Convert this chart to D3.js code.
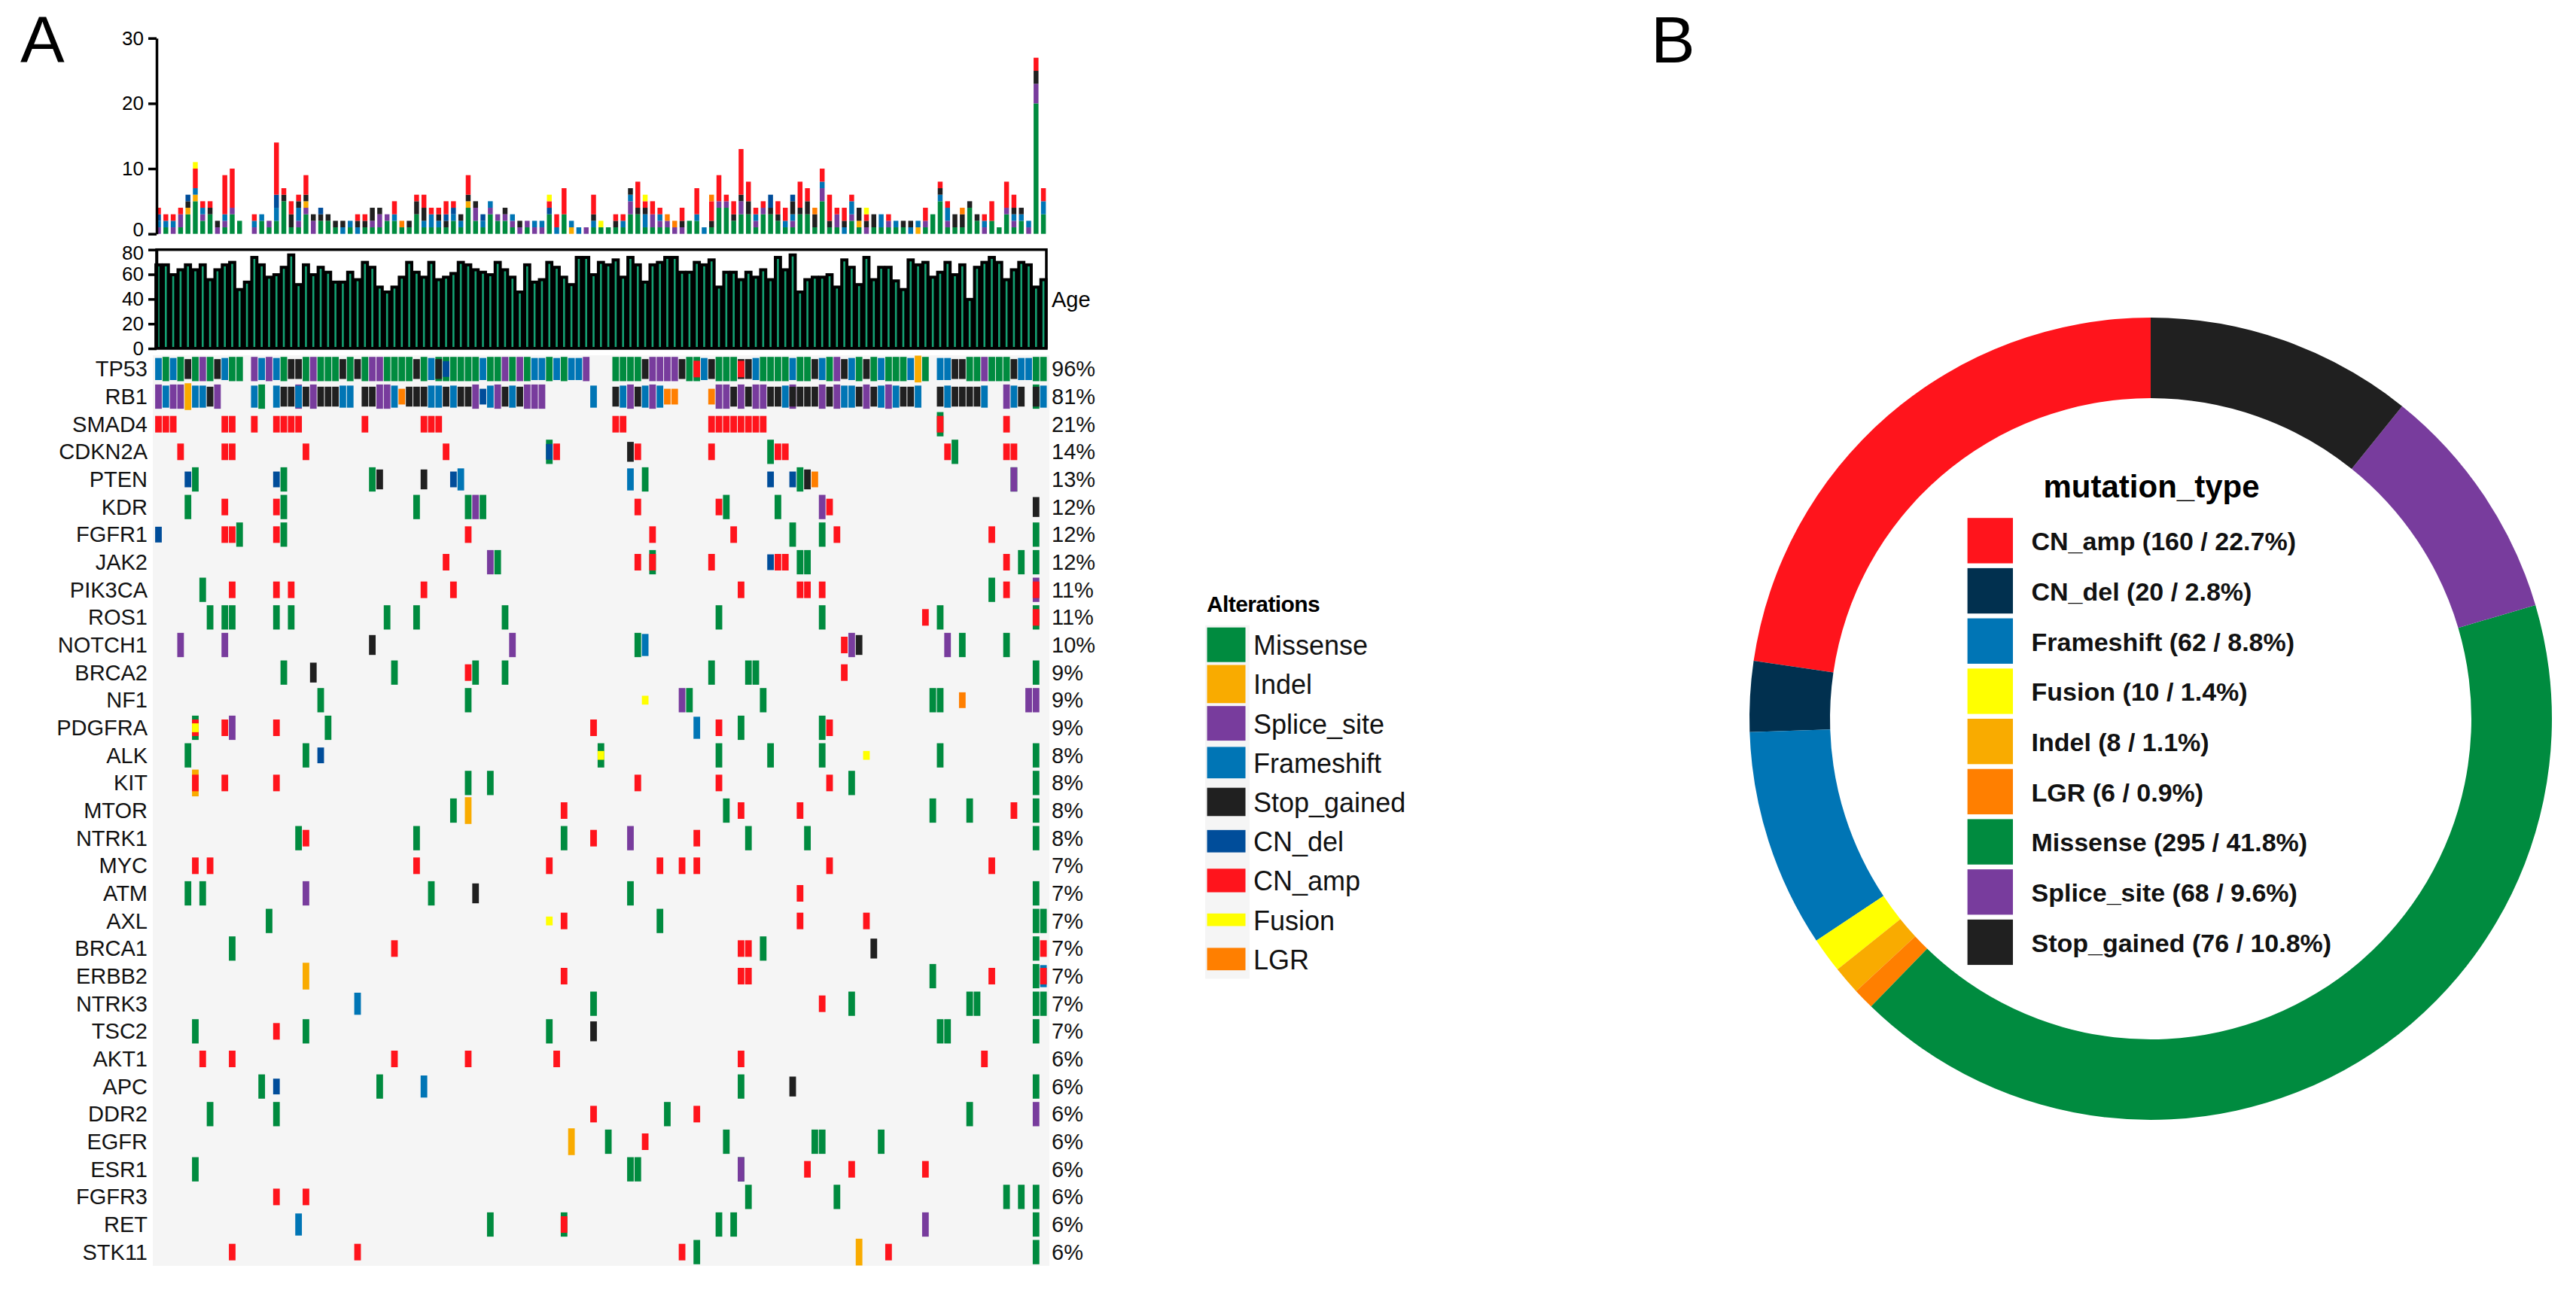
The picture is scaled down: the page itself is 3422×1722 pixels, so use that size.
<!DOCTYPE html>
<html>
<head>
<meta charset="utf-8">
<script src="https://cdnjs.cloudflare.com/ajax/libs/d3/7.8.5/d3.min.js"></script>
<style>
  body { margin: 0; background: #fff; }
  svg { display: block; font-family: "Liberation Sans", Arial, sans-serif; }
</style>
</head>
<body>
<div id="content"></div>
<script>
// ---- data ----
const genes = ["TP53","RB1","SMAD4","CDKN2A","PTEN","KDR","FGFR1","JAK2","PIK3CA","ROS1","NOTCH1",
  "BRCA2","NF1","PDGFRA","ALK","KIT","MTOR","NTRK1","MYC","ATM","AXL","BRCA1","ERBB2","NTRK3",
  "TSC2","AKT1","APC","DDR2","EGFR","ESR1","FGFR3","RET","STK11"];
const pctLabels = ["96%","81%","21%","14%","13%","12%","12%","12%","11%","11%","10%","9%","9%","9%",
  "8%","8%","8%","8%","7%","7%","7%","7%","7%","7%","7%","6%","6%","6%","6%","6%","6%","6%","6%"];

// alteration codes: M Missense, I Indel, S Splice_site, F Frameshift, X Stop_gained,
// D CN_del, A CN_amp, U Fusion, L LGR ; token = sampleIndex + codes
const alterations = [
  "0F 1M 2F 3M 4X 5M 6S 7M 8X 9F 10M 11M 13S 14F 15S 16F 17M 18X 19X 20M 21S 22M 23M 24M 25X 26M 27X 28M 29S 30S 31M 32M 33M 34M 35X 36M 37F 38MX 39MD 40M 41M 42M 43M 44F 45M 46M 47S 48M 49S 50M 51F 52F 53M 54F 55M 56F 57F 58S 62M 63M 64M 65M 66X 67S 68S 69S 70S 71X 72M 73MA 74F 75X 76M 77M 78M 79XA 80X 81F 82M 83M 84M 85M 86F 87M 88M 89X 90F 91M 92S 93X 94F 95M 96X 97M 98F 99M 100M 101M 102F 103I 104M 106F 107F 108X 109X 110M 111M 112S 113M 114M 115M 116X 117F 118F 119M 120M",
  "0S 1F 2S 3S 4I 5F 6F 7X 8S 13F 14M 16F 17X 18X 19SF 20X 21S 22X 23X 24X 25F 26F 28X 29X 30S 31S 32F 33L 34X 35X 36X 37F 38F 39X 40F 41X 42X 43S 44D 45F 46S 47X 48F 49X 50S 51S 52S 59F 62X 63F 64S 65X 66F 67S 68F 69L 70L 75L 76S 77S 78X 79S 80X 81S 82S 83X 84X 85F 86SX 87X 88X 89X 90S 91X 92S 93F 94F 95X 96S 97X 98F 99S 100F 101X 102X 103F 106X 107F 108X 109X 110X 111X 112F 115S 116F 117X 119MX 120F",
  "0A 1A 2A 9A 10A 13A 16A 17A 18A 19A 28A 36A 37A 38A 62A 63A 75A 76A 77A 78A 79A 80A 81A 82A 106MA 115A",
  "3A 9A 10A 20A 39A 53MD 54A 64X 65A 75A 83M 84A 85A 107A 108M 115A 116A",
  "4D 5M 16D 17M 29M 30X 36X 40D 41F 64F 66M 83D 86D 87M 88X 89L 116MS",
  "4M 9A 16A 17M 35M 42M 43S 44M 65A 76A 77M 84M 90S 91A 119X",
  "0D 9A 10A 11M 16A 17M 42A 67A 78A 86M 90M 92A 113A 119M",
  "39A 45S 46M 65A 67MA 75A 83D 84A 85A 87M 88M 115A 117M 119M",
  "6M 10A 16A 18A 36A 40A 79A 87A 88A 90A 113M 115A 119SA",
  "7M 9M 10M 16M 18M 31M 35M 47M 76M 90M 104A 106M 119MA",
  "3S 9S 29X 48S 65M 66F 93A 94S 95X 107S 109M 115M",
  "17M 21X 32M 42A 43M 47M 75M 80M 81M 93A 119M",
  "22M 42M 66U 71S 72M 82M 105M 106M 109L 118S 119S",
  "5MAU 9A 10S 16A 23M 59A 73F 76A 79M 90M 91A",
  "4M 20M 22D 60MU 76M 83M 90M 96U 106M 119M",
  "5IA 9A 16A 42M 45M 65A 76A 91A 94M 119M",
  "40M 42I 55A 77M 79A 87A 105M 110M 116A 119M",
  "19M 20A 35M 55M 59A 64S 73A 80M 88M 119M",
  "5A 7A 35A 53A 68A 71A 73A 91A 113A",
  "4M 6M 20S 37M 43X 64M 87A 119M",
  "15M 53U 55A 68M 87A 96A 119M 120M",
  "10M 32A 79A 80A 82M 97X 119M 120A",
  "20I 55A 79A 80A 105M 113A 119M 120FA",
  "27F 59M 90A 94M 110M 111M 119M 120M",
  "5M 16A 20M 53M 59X 106M 107M 119M",
  "6A 10A 32A 42A 54A 79A 112A",
  "14M 16D 30M 36F 79M 86X 119M",
  "7M 16M 59A 69M 73A 110M 119S",
  "56I 61M 66A 77M 89M 90M 98M",
  "5M 64M 65M 79MS 88A 94A 104A",
  "16A 20A 80M 92M 115M 117M 119M",
  "19F 45M 55MA 76M 78M 104S 119M",
  "10A 27A 71A 73M 95I 99A 119M"
];

const ages = [68,68,60,64,68,64,68,56,64,68, 70,48,54,74,68,58,60,66,76,52,
  68,60,66,62,54,54,62,56,70,66, 50,46,50,58,70,62,58,70,56,58,
  61,70,68,64,62,60,70,64,58,46, 68,54,56,70,66,58,52,74,74,60,
  70,68,72,58,74,68,54,68,70,74, 74,62,62,70,68,72,50,62,62,56,
  62,58,64,56,74,64,76,46,56,58, 58,60,50,72,66,52,74,56,66,66,
  55,48,72,68,70,58,62,70,60,68, 40,66,70,74,70,56,64,70,68,50, 56];

const altCodes  = ["M","I","S","F","X","D","A","U","L"];
const altNames  = ["Missense","Indel","Splice_site","Frameshift","Stop_gained","CN_del","CN_amp","Fusion","LGR"];
const altColors = ["#008b3f","#f9ab00","#783c9d","#0075b5","#202020","#004d9a","#ff141c","#ffff00","#ff7f00"];
const stackOrder = ["M","S","I","F","X","D","A","U","L"];

const mutTypes  = ["CN_amp","CN_del","Frameshift","Fusion","Indel","LGR","Missense","Splice_site","Stop_gained"];
const mutCounts = [160, 20, 62, 10, 8, 6, 295, 68, 76];
const mutPct    = ["22.7","2.8","8.8","1.4","1.1","0.9","41.8","9.6","10.8"];
const mutColors = ["#ff141c","#01304f","#0075b5","#ffff00","#f9ab00","#ff7f00","#008b3f","#783c9d","#202020"];

// ---- drawing ----
const W = 3422, H = 1722;
const svg = d3.select("#content").append("svg").attr("width", W).attr("height", H);
svg.append("rect").attr("width", W).attr("height", H).attr("fill", "#fff");

const colorOf = d3.scaleOrdinal().domain(altCodes).range(altColors);
const heightFrac = {M:0.88, I:0.97, S:0.88, F:0.8, X:0.72, D:0.57, A:0.6, U:0.32, L:0.57};

const N = ages.length;
const x = d3.scaleBand().domain(d3.range(N)).range([205.6, 1391]);
const bw = x.bandwidth();
const yRow = d3.scaleBand().domain(genes).range([472, 1682]);
const rowH = yRow.bandwidth();

// parse the tokens into cells
let cells = [];
alterations.forEach((str, gi) => {
  str.trim().split(/\s+/).forEach(tok => {
    const m = tok.match(/^(\d+)([A-Z]+)$/);
    m[2].split("").forEach(code => cells.push({gene: genes[gi], col: +m[1], code: code}));
  });
});
cells.sort((a, b) => heightFrac[b.code] - heightFrac[a.code]);

// panel letters
svg.append("text").text("A").attr("x", 27).attr("y", 83).attr("font-size", 88);
svg.append("text").text("B").attr("x", 2193).attr("y", 83).attr("font-size", 88);

// top stacked bar of alteration counts per sample
const perSample = d3.range(N).map(() => { const o = {}; stackOrder.forEach(k => o[k] = 0); return o; });
cells.forEach(c => perSample[c.col][c.code]++);
const stacked = d3.stack().keys(stackOrder)(perSample);
const yTop = d3.scaleLinear().domain([0, 30]).range([310.7, 50.7]);

svg.append("g").selectAll("g").data(stacked).enter().append("g")
  .attr("fill", d => colorOf(d.key))
  .selectAll("rect").data(d => d).enter().append("rect")
  .attr("x", (d, i) => x(i) + bw * 0.17)
  .attr("width", bw * 0.66)
  .attr("y", d => yTop(d[1]))
  .attr("height", d => yTop(d[0]) - yTop(d[1]));

const topAxis = svg.append("g").attr("transform", "translate(208,0)")
  .call(d3.axisLeft(yTop).tickValues([0,10,20,30]).tickSize(11).tickSizeOuter(0).tickPadding(6));
topAxis.selectAll("path,line").attr("stroke", "#000").attr("stroke-width", 3.5);
topAxis.selectAll("text").attr("font-size", 26).attr("font-family", "Liberation Sans, Arial").attr("fill", "#000");
topAxis.selectAll(".tick").filter(d => d === 0).select("text").attr("dy", "0.1em");

// age panel
const yAge = d3.scaleLinear().domain([0, 80]).range([463, 331.7]);
const ageG = svg.append("g");
ageG.selectAll("rect.blk").data(ages).enter().append("rect").attr("class", "blk")
  .attr("x", (d, i) => x(i) - 0.5).attr("width", bw + 1)
  .attr("y", d => yAge(d) - 1.5).attr("height", d => 463 - yAge(d) + 1.5)
  .attr("fill", "#000");
ageG.selectAll("rect.grn").data(ages).enter().append("rect").attr("class", "grn")
  .attr("x", (d, i) => x(i) + bw / 2 - 1.3).attr("width", 2.6)
  .attr("y", d => yAge(d) + 2.5).attr("height", d => 461 - yAge(d) - 2.5)
  .attr("fill", "#14a072");
svg.append("rect").attr("x", 208).attr("y", 331.7).attr("width", 1182).attr("height", 131.3)
  .attr("fill", "none").attr("stroke", "#000").attr("stroke-width", 3.5);
const ageAxis = svg.append("g").attr("transform", "translate(208,0)")
  .call(d3.axisLeft(yAge).tickValues([0,20,40,60,80]).tickSize(11).tickSizeOuter(0).tickPadding(6));
ageAxis.selectAll("path,line").attr("stroke", "#000").attr("stroke-width", 3.5);
ageAxis.selectAll("text").attr("font-size", 26).attr("font-family", "Liberation Sans, Arial").attr("fill", "#000");
ageAxis.selectAll(".tick").filter(d => d === 80).select("text").attr("dy", "0.5em");
svg.append("text").text("Age").attr("x", 1397).attr("y", 398)
  .attr("dominant-baseline", "central").attr("font-size", 29);

// oncoprint grid
svg.append("rect").attr("x", 203).attr("y", 472).attr("width", 1191).attr("height", 1210).attr("fill", "#f5f5f5");
const gap = bw * 0.05;
svg.append("g").selectAll("rect").data(cells).enter().append("rect")
  .attr("x", d => x(d.col) + gap)
  .attr("width", bw - 2 * gap)
  .attr("y", d => yRow(d.gene) + rowH * (1 - heightFrac[d.code]) / 2)
  .attr("height", d => rowH * heightFrac[d.code])
  .attr("fill", d => colorOf(d.code));

svg.append("g").selectAll("text").data(genes).enter().append("text")
  .attr("x", 196).attr("y", d => yRow(d) + rowH / 2)
  .attr("text-anchor", "end").attr("dominant-baseline", "central")
  .attr("font-size", 29).attr("fill", "#111").text(d => d);
svg.append("g").selectAll("text").data(pctLabels).enter().append("text")
  .attr("x", 1397).attr("y", (d, i) => yRow(genes[i]) + rowH / 2)
  .attr("dominant-baseline", "central")
  .attr("font-size", 29).attr("fill", "#111").text(d => d);

// legend A
const legA = svg.append("g");
const legPitch = 52.2, legTop = 830.6;
legA.append("text").text("Alterations").attr("x", 1603).attr("y", 813)
  .attr("font-size", 30).attr("font-weight", "bold").attr("letter-spacing", -0.6);
legA.append("rect").attr("x", 1601).attr("y", legTop).attr("width", 59)
  .attr("height", legPitch * altCodes.length).attr("fill", "#f5f5f5");
altCodes.forEach((code, i) => {
  const cy = legTop + legPitch * (i + 0.5);
  const h = legPitch * heightFrac[code];
  legA.append("rect").attr("x", 1603.5).attr("width", 51)
    .attr("y", cy - h / 2).attr("height", h).attr("fill", altColors[i]);
  legA.append("text").text(altNames[i]).attr("x", 1665).attr("y", cy + 1)
    .attr("dominant-baseline", "central").attr("font-size", 36).attr("fill", "#111");
});

// panel B donut
const cx = 2857, cy = 955;
const pie = d3.pie().sort(null).startAngle(0).endAngle(-2 * Math.PI).value(d => d);
const arc = d3.arc().innerRadius(426).outerRadius(533);
svg.append("g").attr("transform", `translate(${cx},${cy})`)
  .selectAll("path").data(pie(mutCounts)).enter().append("path")
  .attr("d", arc).attr("fill", (d, i) => mutColors[i]);

const legB = svg.append("g");
legB.append("text").text("mutation_type").attr("x", 2858).attr("y", 661)
  .attr("text-anchor", "middle").attr("font-size", 42).attr("font-weight", "bold");
mutTypes.forEach((t, i) => {
  const top = 688.2 + i * 66.7;
  legB.append("rect").attr("x", 2613.6).attr("y", top).attr("width", 60.4).attr("height", 60.3)
    .attr("fill", mutColors[i]);
  legB.append("text").text(`${t} (${mutCounts[i]} / ${mutPct[i]}%)`)
    .attr("x", 2698.5).attr("y", top + 31).attr("dominant-baseline", "central")
    .attr("font-size", 34).attr("font-weight", "bold").attr("fill", "#111");
});
</script>
</body>
</html>
